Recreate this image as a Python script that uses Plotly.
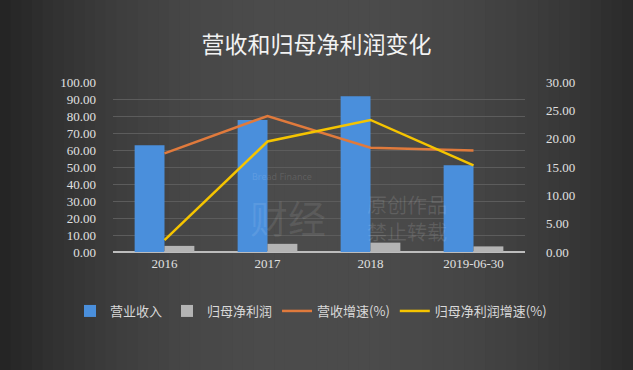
import plotly.graph_objects as go

categories = ["2016", "2017", "2018", "2019-06-30"]
revenue = [62.8, 77.6, 91.6, 51.0]
net_profit = [3.6, 4.8, 5.5, 3.3]
revenue_growth = [17.4, 24.0, 18.4, 17.9]
profit_growth = [2.1, 19.5, 23.3, 15.3]

left_ticks = [0, 10, 20, 30, 40, 50, 60, 70, 80, 90, 100]
right_ticks = [0, 5, 10, 15, 20, 25, 30]

W, H = 633, 370
L, R, T, B = 113, 108, 82, 118
pw, ph = W - L - R, H - T - B

def px2paper_x(px):
    return (px - L) / pw

def px2paper_y(py):
    return (H - B - py) / ph

fig = go.Figure()

fig.add_trace(go.Bar(
    x=categories, y=revenue, name="营业收入",
    marker=dict(color="#4a8fdc", line=dict(width=0)), yaxis="y"))
fig.add_trace(go.Bar(
    x=categories, y=net_profit, name="归母净利润",
    marker=dict(color="#b4b4b4", line=dict(width=0)), yaxis="y"))
fig.add_trace(go.Scatter(
    x=categories, y=revenue_growth, name="营收增速(%)", mode="lines",
    line=dict(color="#e07a3c", width=2.5), yaxis="y2"))
fig.add_trace(go.Scatter(
    x=categories, y=profit_growth, name="归母净利润增速(%)", mode="lines",
    line=dict(color="#f5c400", width=2.5), yaxis="y2"))

# background gradient strips
shapes = []
n = 60
edge_l, edge_r, center = 0x24, 0x2a, 0x4c
for i in range(n):
    x0 = W * i / n
    x1 = W * (i + 1) / n
    xc = (x0 + x1) / 2 / W
    d = abs(xc - 0.5) * 2
    edge = edge_l if xc < 0.5 else edge_r
    f = max(0.0, 1 - d ** 2.2)
    v = int(edge + (center - edge) * f)
    c = f"rgb({v},{v},{v})"
    shapes.append(dict(type="rect", xref="paper", yref="paper",
                       x0=px2paper_x(x0), x1=px2paper_x(x1 + 0.6),
                       y0=px2paper_y(H + 5), y1=px2paper_y(-5),
                       fillcolor=c, line=dict(width=0), layer="below"))

tick_font = dict(family="Liberation Serif, DejaVu Serif, serif", size=13, color="#e0e0e0")

wm = "rgba(255,255,255,0.12)"
annotations = [
    dict(text="原创作品", x=px2paper_x(365), y=px2paper_y(204), xref="paper", yref="paper",
         xanchor="left", yanchor="middle", showarrow=False,
         font=dict(family="Noto Sans CJK SC", size=20, color=wm)),
    dict(text="禁止转载", x=px2paper_x(365), y=px2paper_y(231), xref="paper", yref="paper",
         xanchor="left", yanchor="middle", showarrow=False,
         font=dict(family="Noto Sans CJK SC", size=20, color=wm)),
    dict(text="Bread Finance", x=px2paper_x(250), y=px2paper_y(176), xref="paper", yref="paper",
         xanchor="left", yanchor="middle", showarrow=False,
         font=dict(family="Noto Sans", size=9, color=wm)),
    dict(text="财经", x=px2paper_x(248), y=px2paper_y(216), xref="paper", yref="paper",
         xanchor="left", yanchor="middle", showarrow=False,
         font=dict(family="Noto Sans CJK SC", size=38, color="rgba(255,255,255,0.09)")),
]

fig.update_layout(
    width=W, height=H,
    margin=dict(l=L, r=R, t=T, b=B, pad=0),
    paper_bgcolor="#2f2f2f",
    plot_bgcolor="rgba(0,0,0,0)",
    barmode="group",
    bargap=0.42,
    bargroupgap=0,
    shapes=shapes,
    annotations=annotations,
    title=dict(text="营收和归母净利润变化", x=0.5, xanchor="center",
               y=1 - 45 / H, yanchor="middle",
               font=dict(family="Noto Sans CJK SC", size=23, color="#f2f2f2")),
    xaxis=dict(type="category", showgrid=False, showline=False, zeroline=False,
               ticks="", tickfont=tick_font, ticklabelstandoff=2),
    yaxis=dict(range=[0, 100], tickvals=left_ticks, ticktext=[f"{v:.2f}" for v in left_ticks],
               showgrid=True, gridcolor="#5c5c5c", gridwidth=1,
               zeroline=True, zerolinecolor="#bdbdbd", zerolinewidth=1.5,
               showline=False, ticks="", tickfont=tick_font, ticklabelstandoff=16),
    yaxis2=dict(range=[0, 30], tickvals=right_ticks, ticktext=[f"{v:.2f}" for v in right_ticks],
                overlaying="y", side="right", showgrid=False, zeroline=False,
                showline=False, ticks="", tickfont=tick_font, ticklabelstandoff=20),
    legend=dict(orientation="h", x=px2paper_x(70), xanchor="left",
                y=px2paper_y(311), yanchor="middle",
                font=dict(family="Noto Sans CJK SC", size=13, color="#d9d9d9"),
                bgcolor="rgba(0,0,0,0)", itemwidth=30, tracegroupgap=0),
    showlegend=True,
)

fig.write_html("out.html", config={"displayModeBar": False},
               post_script="document.body.style.margin='0';document.body.style.overflow='hidden';")
